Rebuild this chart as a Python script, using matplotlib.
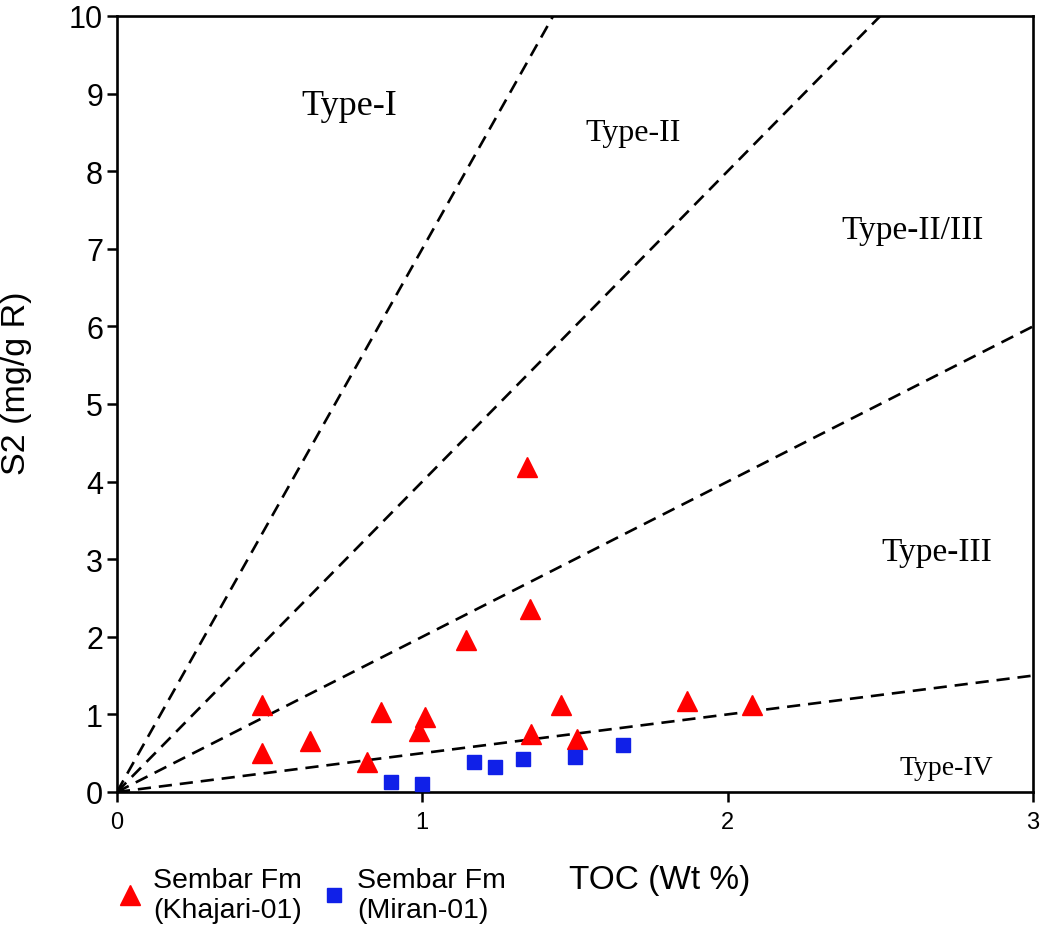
import numpy as np
import matplotlib
matplotlib.use("Agg")
import matplotlib.pyplot as plt

# Sembar Fm (Khajari-01) - TOC vs S2
khajari_toc = [1.343, 1.353, 1.143, 0.475, 0.475, 0.632, 0.865, 1.01, 0.99, 0.818, 1.355, 1.507, 1.454, 1.867, 2.08]
khajari_s2 = [4.19, 2.36, 1.96, 1.12, 0.50, 0.66, 1.03, 0.96, 0.78, 0.38, 0.75, 0.68, 1.12, 1.17, 1.12]

# Sembar Fm (Miran-01)
miran_toc = [0.897, 1.0, 1.17, 1.237, 1.33, 1.50, 1.657]
miran_s2 = [0.13, 0.10, 0.39, 0.32, 0.43, 0.45, 0.60]

# kerogen type boundaries (S2 = slope * TOC)
boundary_slopes = [7, 4, 2, 0.5]

type_labels = ["Type-I", "Type-II", "Type-II/III", "Type-III", "Type-IV"]
type_x = [0.76, 1.69, 2.605, 2.685, 2.715]
type_y = [8.85, 8.5, 7.25, 3.1, 0.32]
type_size = [26, 23, 24, 24, 20]

plt.rcParams['font.family'] = ['Liberation Sans', 'DejaVu Sans']

fig = plt.figure(figsize=(10.44, 9.28), dpi=100)
ax = fig.add_axes([0.112, 0.1455, 0.8775, 0.8362])

xx = np.array([0, 3.0])
for s in boundary_slopes:
    ax.plot(xx, s * xx, color='black', lw=1.9, linestyle=(0, (5, 3)), zorder=1)

ax.plot(khajari_toc, khajari_s2, linestyle='none', marker='^', ms=15,
        color='#ff0000', label='Sembar Fm\n(Khajari-01)', zorder=3)
ax.plot(miran_toc, miran_s2, linestyle='none', marker='s', ms=10,
        color='#1020e8', label='Sembar Fm\n(Miran-01)', zorder=3)

for lab, x, y, fs in zip(type_labels, type_x, type_y, type_size):
    ax.text(x, y, lab, fontsize=fs, family='Liberation Serif', ha='center', va='center')

ax.set_xlim(0, 3)
ax.set_ylim(0, 10)
ax.set_xticks([0, 1, 2, 3])
ax.set_yticks(range(0, 11))
ax.tick_params(axis='x', labelsize=17, length=7, width=1.8, direction='out', pad=7)
ax.tick_params(axis='y', labelsize=22, length=7, width=1.8, direction='out', pad=3)
for sp in ax.spines.values():
    sp.set_linewidth(1.9)

ax.set_ylabel("S2 (mg/g R)", fontsize=24.5)
ax.set_xlabel("TOC (Wt %)", fontsize=24)
ax.yaxis.set_label_coords(-0.093, 0.528)
ax.xaxis.set_label_coords(0.593, -0.0925)

ax.legend(loc='upper left', bbox_to_anchor=(0.113, 0.065), bbox_transform=fig.transFigure,
          ncol=2, frameon=False, fontsize=20.5, handlelength=0.85, handletextpad=0.38,
          columnspacing=0.7, labelspacing=0.2, borderpad=0, borderaxespad=0)

fig.savefig("out.png", dpi=100)
